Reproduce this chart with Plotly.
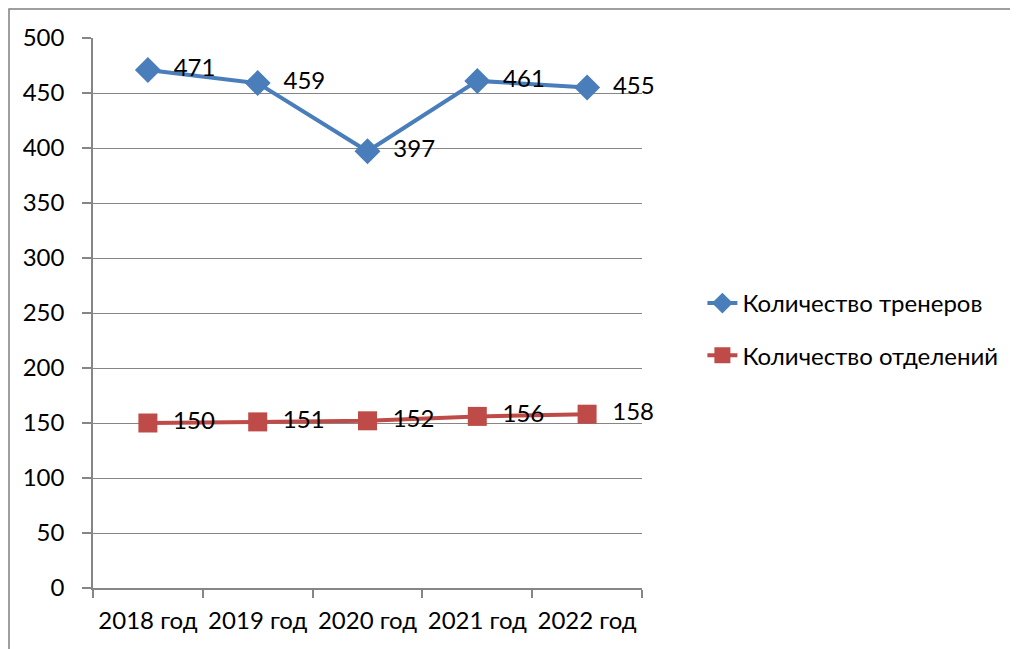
import plotly.graph_objects as go

years = ["2018 год", "2019 год", "2020 год", "2021 год", "2022 год"]
coaches = [471, 459, 397, 461, 455]
departments = [150, 151, 152, 156, 158]

BLUE = "#4a7ebb"
RED = "#be4b48"
GRID = "#868686"
FONT = "Lato, 'Open Sans', sans-serif"
PAD = "\u00a0\u00a0"

fig = go.Figure()
fig.add_trace(go.Scatter(
    x=years, y=coaches, name="Количество тренеров",
    mode="lines+markers+text",
    line=dict(color=BLUE, width=4),
    marker=dict(symbol="diamond", size=20, color=BLUE),
    text=[PAD + str(v) for v in coaches], textposition="middle right",
    textfont=dict(size=24, color="black"),
    cliponaxis=False,
    legendgroup="a",
))
fig.add_trace(go.Scatter(
    x=years, y=departments, name="Количество отделений",
    mode="lines+markers+text",
    line=dict(color=RED, width=4),
    marker=dict(symbol="square", size=19, color=RED),
    text=[PAD + str(v) for v in departments], textposition="middle right",
    textfont=dict(size=24, color="black"),
    cliponaxis=False,
    legendgroup="b",
))

# the page body adds an 8px offset, so margins are shifted to compensate
fig.update_layout(
    width=1018, height=649,
    margin=dict(l=85, r=384, t=30, b=69),
    plot_bgcolor="white", paper_bgcolor="white",
    font=dict(family=FONT, size=24, color="black"),
    xaxis=dict(
        range=[-0.5, 4.5], showgrid=False, showline=True, linecolor=GRID, linewidth=1.5,
        ticks="outside", tickson="boundaries", ticklen=8, tickcolor=GRID, tickwidth=1.5,
        ticklabelstandoff=10,
    ),
    yaxis=dict(
        range=[0, 500], dtick=50, showgrid=True, gridcolor=GRID, gridwidth=1.3,
        showline=True, linecolor=GRID, linewidth=1.5, zeroline=False,
        ticks="outside", ticklen=9, tickcolor=GRID, tickwidth=1.5,
        ticklabelstandoff=13,
    ),
    legend=dict(
        x=1.11, y=0.47, xanchor="left", yanchor="middle",
        traceorder="grouped", tracegroupgap=18,
        font=dict(size=24), bgcolor="rgba(0,0,0,0)",
    ),
    shapes=[dict(
        type="rect", xref="paper", yref="paper",
        x0=(9 - 93) / 549, x1=(1040 - 93) / 549,
        y0=(588 - 670) / 550, y1=(588 - 9) / 550,
        line=dict(color="#808080", width=1.5), layer="below",
    )],
)

fig.write_html("out.html")
